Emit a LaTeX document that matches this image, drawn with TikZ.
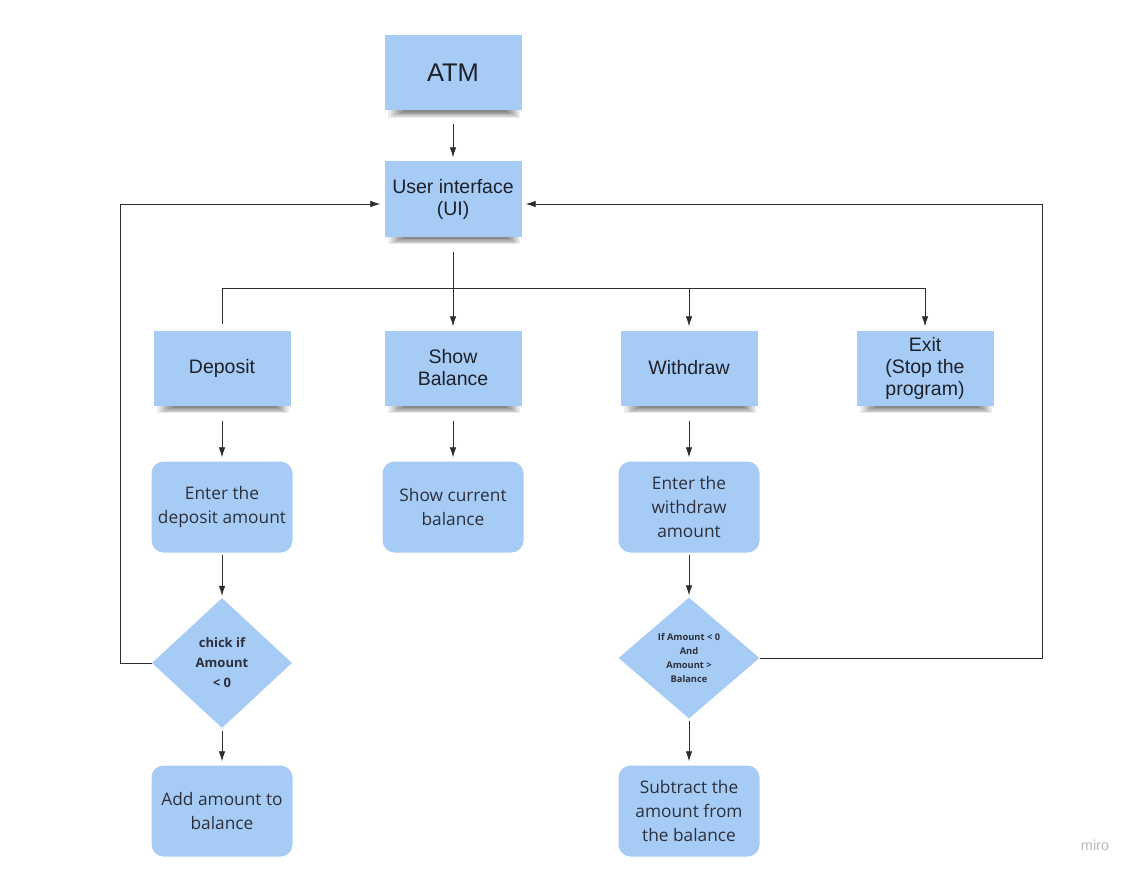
\documentclass[tikz,border=0pt]{standalone}
\usepackage{fontspec}
\setmainfont{Liberation Sans}
\newfontfamily\osans{Open Sans}
\usetikzlibrary{shapes.geometric,arrows.meta,calc,backgrounds}
\definecolor{stickyblue}{RGB}{166,204,245}
\definecolor{txt}{RGB}{30,32,42}
\definecolor{rtxt}{RGB}{45,47,60}
\definecolor{linec}{RGB}{45,45,45}
\definecolor{mirogray}{RGB}{185,185,190}
\newcommand{\stshadow}[1]{%
  \foreach \k in {0,...,7}{%
    \fill[black,opacity=0.075] ($(#1.south west)+(4+\k*2.2,-2)$) rectangle ($(#1.south east)+(-2-\k*1.8,7.5-\k*0.8)$);}}
\tikzset{
  sticky/.style={fill=stickyblue, minimum width=137pt, minimum height=75pt, inner sep=0pt,
    align=center, text=txt, font=\fontsize{19.5}{22}\selectfont},
  rbox/.style={fill=stickyblue, rounded corners=12pt, minimum width=141pt, minimum height=91pt,
    inner sep=0pt, align=center, text=rtxt, font=\osans\fontsize{17.3}{24}\selectfont},
  dia/.style={diamond, fill=stickyblue, inner sep=0pt, align=center, text=rtxt},
  conn/.style={draw=linec, line width=0.8pt},
  arr/.style={conn, -{Latex[length=10pt,width=6.5pt]}},
}
\begin{document}
\begin{tikzpicture}[x=1pt,y=-1pt]
\useasboundingbox (0,0) rectangle (1139,877);
% sticky notes
\node[sticky, font=\fontsize{25.5}{28}\selectfont] (atm) at (453,72.5) {ATM};
\node[sticky] (ui) at (453,199) {User interface\\(UI)};
\node[sticky] (dep) at (222,368) {Deposit};
\node[sticky] (sb) at (453,368) {Show\\Balance};
\node[sticky] (wd) at (689,368) {Withdraw};
\node[sticky] (ex) at (925,368) {Exit\\(Stop the\\program)};
% rounded boxes
\node[rbox] (ed) at (222,507) {Enter the\\deposit amount};
\node[rbox] (sc) at (453,507) {Show current\\balance};
\node[rbox] (ew) at (689,507) {Enter the\\withdraw\\amount};
\node[rbox] (add) at (222,811) {Add amount to\\balance};
\node[rbox] (sub) at (689,811) {Subtract the\\amount from\\the balance};
% diamonds
\node[dia, minimum width=140pt, minimum height=130pt, font=\osans\bfseries\fontsize{13}{20}\selectfont] (d1) at (222,663) {chick if\\Amount\\< 0};
\node[dia, minimum width=141pt, minimum height=121pt, font=\osans\bfseries\fontsize{9.3}{13.7}\selectfont] (d2) at (689,658) {If Amount < 0\\And\\Amount >\\Balance};
% miro mark
\node[text=mirogray, font=\fontsize{14.5}{16}\selectfont, inner sep=0pt] (miro) at (1095,845) {miro};
% shadows
\begin{scope}[on background layer]
\stshadow{atm}\stshadow{ui}\stshadow{dep}\stshadow{sb}\stshadow{wd}\stshadow{ex}
\end{scope}
% connectors
\draw[arr, shorten <=14pt, shorten >=4pt] (atm.south) -- (ui.north);
\coordinate (j) at (453,288);
\draw[conn, shorten <=15pt] (ui.south) -- (j);
\draw[arr, shorten >=4pt] (j) -- (sb.north);
\draw[conn] (dep.north |- j) -- (ex.north |- j);
\draw[conn] (dep.north |- j) -- ([yshift=6pt]dep.north);
\draw[arr, shorten >=4pt] (wd.north |- j) -- (wd.north);
\draw[arr, shorten >=4pt] (ex.north |- j) -- (ex.north);
\draw[arr, shorten <=15pt, shorten >=4pt] (dep.south) -- (ed.north);
\draw[arr, shorten <=15pt, shorten >=4pt] (sb.south) -- (sc.north);
\draw[arr, shorten <=15pt, shorten >=4pt] (wd.south) -- (ew.north);
\draw[arr, shorten <=2pt, shorten >=2pt] (ed.south) -- (d1.north);
\draw[arr, shorten <=2pt, shorten >=2pt] (ew.south) -- (d2.north);
\draw[arr, shorten <=3pt, shorten >=4pt] (d1.south) -- (add.north);
\draw[arr, shorten <=2pt, shorten >=4pt] (d2.south) -- (sub.north);
\draw[arr, shorten >=4pt] (d1.west) -- ++(-31,0) |- ([yshift=-5pt]ui.west);
\draw[arr, shorten >=4pt] (d2.east) -- ++(283,0) |- ([yshift=-5pt]ui.east);
\end{tikzpicture}
\end{document}
